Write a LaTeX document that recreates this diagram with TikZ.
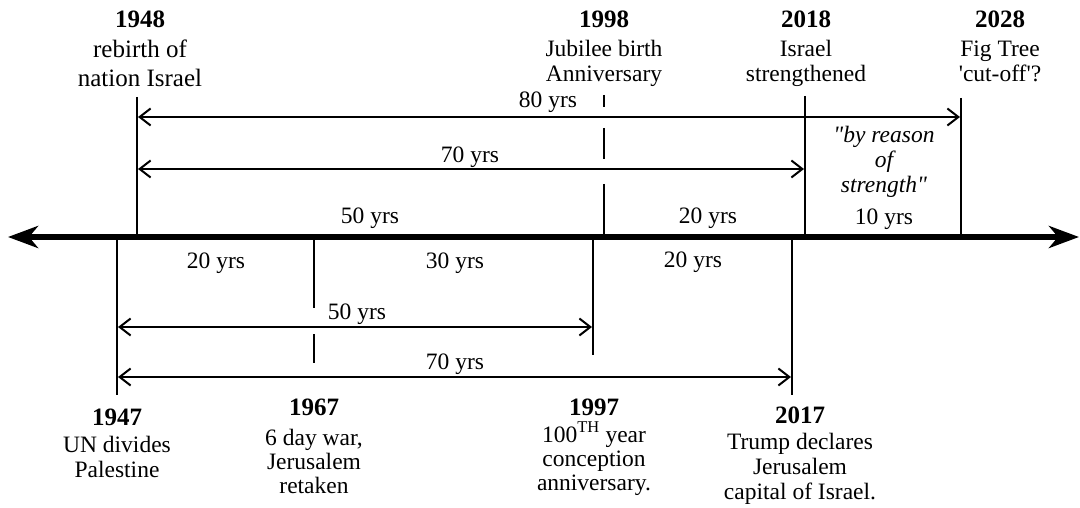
\documentclass[tikz,border=0pt]{standalone}
\usepackage{fontspec}
\setmainfont{Liberation Serif}[Ligatures=TeXOff]
\usetikzlibrary{arrows.meta}
\begin{document}
\begin{tikzpicture}[x=1pt,y=-1pt,
  lab/.style={anchor=base,inner sep=0pt,font=\fontsize{23.5}{26}\selectfont},
  big/.style={lab,font=\fontsize{25}{28}\selectfont},
  yr/.style={lab,font=\fontsize{25}{28}\selectfont\bfseries},
  it/.style={lab,font=\fontsize{23.5}{26}\selectfont\itshape},
  tick/.style={line width=2pt},
  span/.style={line width=2pt,{Straight Barb[length=11pt,width=17pt]}-{Straight Barb[length=11pt,width=17pt]}},
  axis/.style={line width=6pt,{Stealth[length=30pt,width=22pt,inset=9pt]}-{Stealth[length=30pt,width=22pt,inset=9pt]}}]
\useasboundingbox (0,0) rectangle (1080,508);
% axis
\coordinate (axL) at (8,237);
\coordinate (axR) at (1079,237);
\draw[axis] (axL) -- (axR);
% top ticks
\coordinate (t48a) at (137,97);  \coordinate (t48b) at (137,237);
\coordinate (t18a) at (805,96);  \coordinate (t18b) at (805,237);
\coordinate (t28a) at (961,98);  \coordinate (t28b) at (961,237);
\draw[tick] (t48a) -- (t48b);
\draw[tick] (t18a) -- (t18b);
\draw[tick] (t28a) -- (t28b);
\coordinate (t98a) at (604,95);  \coordinate (t98b) at (604,107);
\coordinate (t98c) at (604,128); \coordinate (t98d) at (604,159);
\coordinate (t98e) at (604,184); \coordinate (t98f) at (604,237);
\draw[tick] (t98a) -- (t98b);
\draw[tick] (t98c) -- (t98d);
\draw[tick] (t98e) -- (t98f);
% bottom ticks
\coordinate (b47a) at (117,237); \coordinate (b47b) at (117,395);
\coordinate (b97a) at (593,237); \coordinate (b97b) at (593,355);
\coordinate (b17a) at (792,237); \coordinate (b17b) at (792,395);
\draw[tick] (b47a) -- (b47b);
\draw[tick] (b97a) -- (b97b);
\draw[tick] (b17a) -- (b17b);
\coordinate (b67a) at (314,237); \coordinate (b67b) at (314,308);
\coordinate (b67c) at (314,334); \coordinate (b67d) at (314,363);
\draw[tick] (b67a) -- (b67b);
\draw[tick] (b67c) -- (b67d);
% span arrows
\coordinate (s80L) at (138,117); \coordinate (s80R) at (960,117);
\coordinate (s70L) at (138,169); \coordinate (s70R) at (804,169);
\coordinate (s50L) at (118,327); \coordinate (s50R) at (592,327);
\coordinate (s70bL) at (118,377); \coordinate (s70bR) at (791,377);
\draw[span] (s80L) -- (s80R);
\draw[span] (s70L) -- (s70R);
\draw[span] (s50L) -- (s50R);
\draw[span] (s70bL) -- (s70bR);
% span labels
\node[lab] (l80) at (548,108) {80 yrs};
\node[lab] (l70) at (470,163) {70 yrs};
\node[lab] (l50b) at (357,319) {50 yrs};
\node[lab] (l70b) at (455,369) {70 yrs};
% segment labels above axis
\node[lab] (g50) at (370,223) {50 yrs};
\node[lab] (g20a) at (708,223) {20 yrs};
\node[lab] (g10) at (884,225) {10 yrs};
\node[it] (q1) at (884,143) {"by reason};
\node[it] (q2) at (884,168) {of};
\node[it] (q3) at (884,193) {strength"};
% segment labels below axis
\node[lab] (h20a) at (216,268) {20 yrs};
\node[lab] (h30) at (455,269) {30 yrs};
\node[lab] (h20b) at (693,267) {20 yrs};
% top events
\node[yr] (y48) at (140,28) {1948};
\node[big] (y48a) at (140,58) {rebirth of};
\node[big] (y48b) at (140,87) {nation Israel};
\node[yr] (y98) at (604,28) {1998};
\node[lab] (y98a) at (604,57) {Jubilee birth};
\node[lab] (y98b) at (604,82) {Anniversary};
\node[yr] (y18) at (806,28) {2018};
\node[lab] (y18a) at (806,57) {Israel};
\node[lab] (y18b) at (806,82) {strengthened};
\node[yr] (y28) at (1000,28) {2028};
\node[lab] (y28a) at (1000,57) {Fig Tree};
\node[lab] (y28b) at (1000,82) {'cut-off'?};
% bottom events
\node[yr] (y47) at (117,425) {1947};
\node[lab] (y47a) at (117,452) {UN divides};
\node[lab] (y47b) at (117,477) {Palestine};
\node[yr] (y67) at (314,415) {1967};
\node[lab] (y67a) at (314,445) {6 day war,};
\node[lab] (y67b) at (314,469) {Jerusalem};
\node[lab] (y67c) at (314,493) {retaken};
\node[yr] (y97) at (594,415) {1997};
\node[lab] (y97a) at (594,442) {100\textsuperscript{TH} year};
\node[lab] (y97b) at (594,466) {conception};
\node[lab] (y97c) at (594,490) {anniversary.};
\node[yr] (y17) at (800,423) {2017};
\node[lab] (y17a) at (800,449) {Trump declares};
\node[lab] (y17b) at (800,474) {Jerusalem};
\node[lab] (y17c) at (800,499) {capital of Israel.};
\end{tikzpicture}
\end{document}
